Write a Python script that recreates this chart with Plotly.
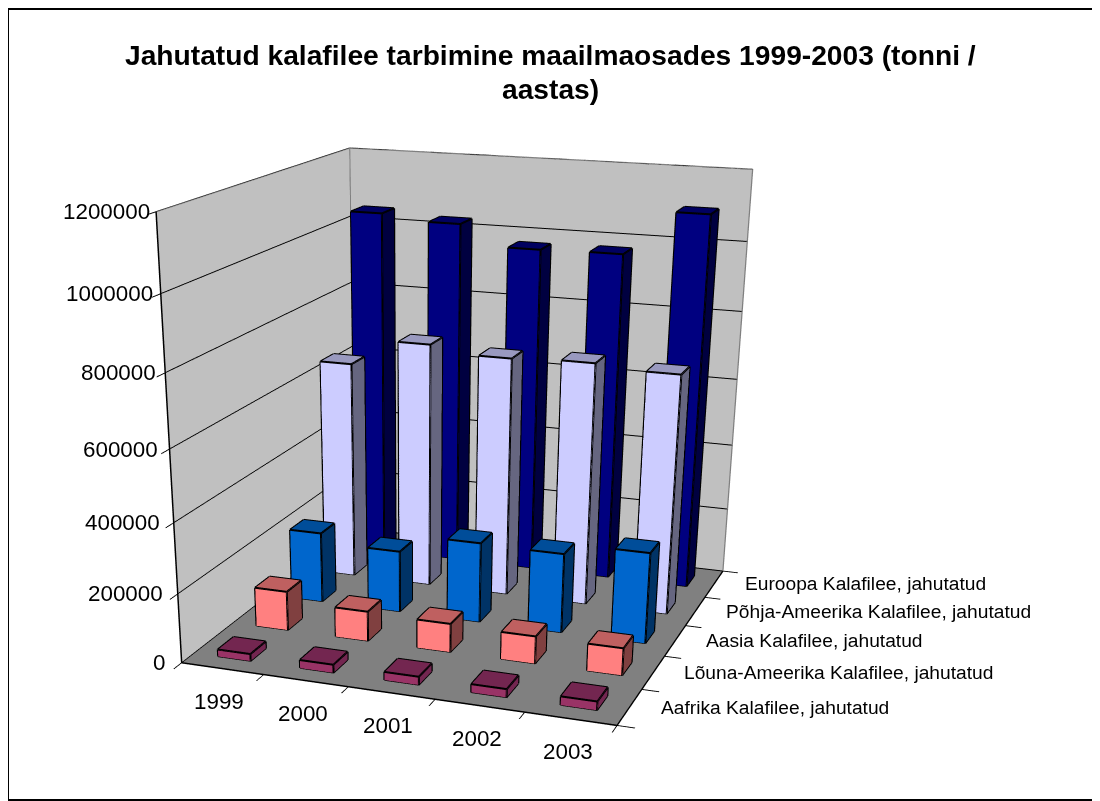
import plotly.graph_objects as go

years = ["1999", "2000", "2001", "2002", "2003"]
series_names = ["Aafrika Kalafilee, jahutatud", "Lõuna-Ameerika Kalafilee, jahutatud", "Aasia Kalafilee, jahutatud",
                "Põhja-Ameerika Kalafilee, jahutatud", "Euroopa Kalafilee, jahutatud"]
aafrika = [21000, 24000, 24000, 24000, 25000]
louna_ameerika = [116000, 88000, 84000, 80000, 79000]
aasia = [211000, 184000, 238000, 235000, 267000]
pohja_ameerika = [652000, 729000, 709000, 716000, 705000]
euroopa = [1044000, 1028000, 970000, 973000, 1098000]
z_ticks = [0, 200000, 400000, 600000, 800000, 1000000, 1200000]
title_lines = ["Jahutatud kalafilee tarbimine maailmaosades 1999-2003 (tonni /", "aastas)"]

# (front, top, side) shades like Excel
colors = [("#993366", "#732650", "#732650"), ("#ff8080", "#bf6060", "#804040"), ("#0066cc", "#004d99", "#003366"),
          ("#ccccff", "#9999bf", "#666680"), ("#000080", "#000060", "#000040")]

# fig is taller than the window on purpose: plotly's fov is fixed, so only a big scene gives the long lens of the
# original. The page starts 8px in (body margin), only the top 801px are seen.
W = 1084
H = 1600
SCENE_W = 844
eye = dict(x=1.3764, y=-4.0999, z=1.1173)
center = dict(x=0.0198, y=-0.3244, z=-0.8466)
up = dict(x=-0.1526, y=0.4123, z=0.8982)


def px(X):
    return (X - 8) / W


def py(Y):
    return 1 - (Y - 8) / H


fig = go.Figure()
all_values = [aafrika, louna_ameerika, aasia, pohja_ameerika, euroopa]
lx, ly, lz = [], [], []
for j, vals in enumerate(all_values):
    vx, vy, vz, ti, tj, tk, fc = [], [], [], [], [], [], []
    for i, v in enumerate(vals):
        x0, x1, y0, y1 = i + 0.3, i + 0.7, j + 0.3, j + 0.7
        b = len(vx)
        vx += [x0, x1, x1, x0, x0, x1, x1, x0]
        vy += [y0, y0, y1, y1, y0, y0, y1, y1]
        vz += [0, 0, 0, 0, v, v, v, v]
        for q, col in [((0, 1, 5, 4), colors[j][0]), ((4, 5, 6, 7), colors[j][1]), ((1, 2, 6, 5), colors[j][2])]:
            ti += [b + q[0], b + q[0]]
            tj += [b + q[1], b + q[2]]
            tk += [b + q[2], b + q[3]]
            fc += [col, col]
        for e in [(0, 1), (1, 5), (5, 4), (4, 0), (5, 6), (6, 7), (7, 4), (1, 2), (2, 6)]:
            lx += [vx[b + e[0]], vx[b + e[1]], None]
            ly += [vy[b + e[0]], vy[b + e[1]], None]
            lz += [vz[b + e[0]], vz[b + e[1]], None]
    fig.add_trace(go.Mesh3d(x=vx, y=vy, z=vz, i=ti, j=tj, k=tk, facecolor=fc, flatshading=True, hoverinfo="skip",
                            lighting=dict(ambient=1, diffuse=0, specular=0, fresnel=0, roughness=1), showscale=False))
fig.add_trace(go.Scatter3d(x=lx, y=ly, z=lz, mode="lines", line=dict(color="black", width=4), hoverinfo="skip",
                           showlegend=False))
# wall outline
top = z_ticks[-1]
fig.add_trace(go.Scatter3d(x=[0, 0, 5, 5, None, 0, 0], y=[0, 5, 5, 5, None, 5, 5], z=[top, top, top, 0, None, 0, top],
                           mode="lines", line=dict(color="#808080", width=2.5), hoverinfo="skip", showlegend=False))

anns = []
for v in z_ticks:
    anns.append(dict(x=0, y=0, z=v, text=str(v), showarrow=False, xanchor="right", xshift=-15 + 11 * v / top,
                     font=dict(size=22.4, color="black")))
for i, yr in enumerate(years):
    anns.append(dict(x=i + 0.5, y=0, z=0, text=yr, showarrow=False, xanchor="center", xshift=-3, yshift=-33,
                     font=dict(size=22.4, color="black")))
for j, nm in enumerate(series_names):
    anns.append(dict(x=5, y=j + 0.5, z=0, text=nm, showarrow=False, xanchor="left", xshift=29,
                     font=dict(size=19.2, color="black")))


def axis(rng, tickvals, bg):
    return dict(range=rng, tickvals=tickvals, showticklabels=False, title="", showbackground=True,
                backgroundcolor=bg, showspikes=False, zeroline=False, showline=True, linecolor="black", linewidth=3,
                ticks="outside", ticklen=14, tickcolor="black", tickwidth=2)


fig.update_layout(
    width=W, height=H, margin=dict(l=0, r=0, t=0, b=0), paper_bgcolor="white",
    font=dict(family="Liberation Sans", color="black"), showlegend=False,
    scene=dict(
        domain=dict(x=[0, SCENE_W / W], y=[0, 1]),
        aspectmode="manual", aspectratio=dict(x=1, y=1.0356, z=0.9718),
        camera=dict(eye=eye, center=center, up=up, projection=dict(type="perspective")),
        xaxis={**axis([0, 5], [0, 1, 2, 3, 4, 5], "#c0c0c0"), "showgrid": False},
        yaxis={**axis([0, 5], [0, 1, 2, 3, 4, 5], "#c0c0c0"), "showgrid": False},
        zaxis={**axis([0, top], z_ticks, "#808080"), "showgrid": True, "gridcolor": "black", "gridwidth": 2},
        annotations=anns,
    ),
    annotations=[
        dict(x=px(550), y=py(55), xref="paper", yref="paper", showarrow=False, xanchor="center", yanchor="middle",
             text="<b>" + title_lines[0] + "</b>", font=dict(size=28.2)),
        dict(x=px(550), y=py(89), xref="paper", yref="paper", showarrow=False, xanchor="center", yanchor="middle",
             text="<b>" + title_lines[1] + "</b>", font=dict(size=28.2)),
    ],
    shapes=[dict(type="rect", xref="paper", yref="paper", x0=0, x1=1.01, y0=py(800), y1=py(9),
                 line=dict(color="black", width=2))],
)
fig.write_html("out.html")
